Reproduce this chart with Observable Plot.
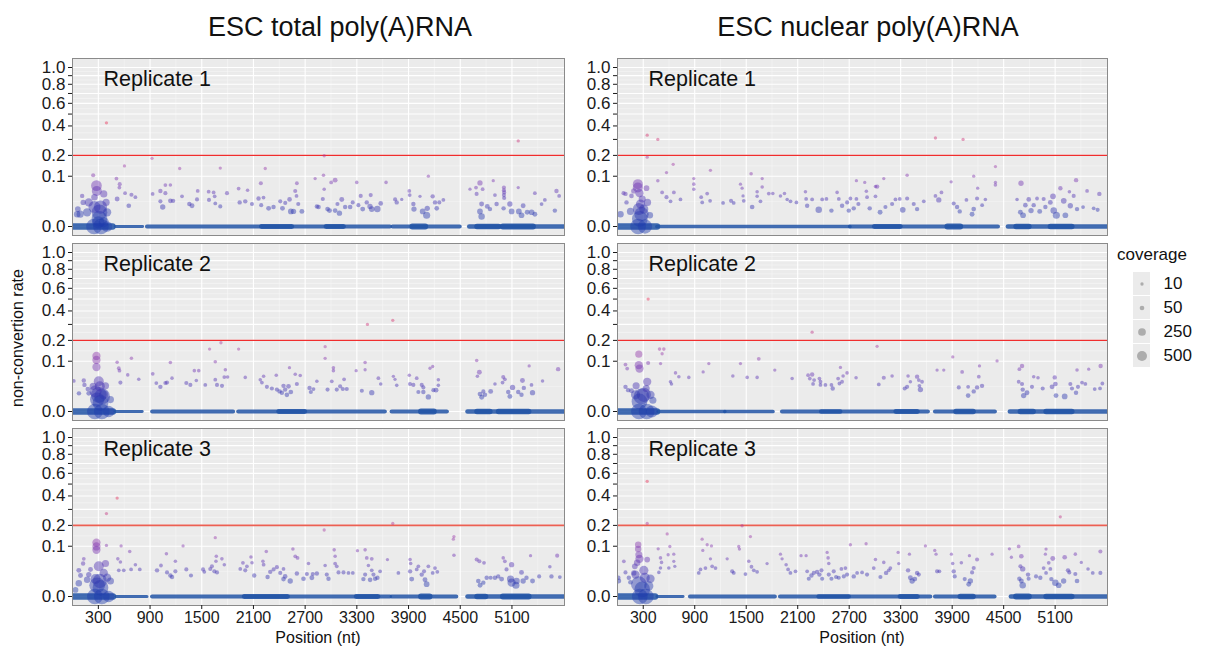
<!DOCTYPE html>
<html>
<head>
<meta charset="utf-8">
<script src="https://cdn.jsdelivr.net/npm/d3@7"></script>
<script src="https://cdn.jsdelivr.net/npm/@observablehq/plot@0.6"></script>
<style>
  html, body { margin: 0; padding: 0; background: #fff; }
  #root { position: relative; width: 1206px; height: 652px; overflow: hidden; background: #fff;
          font-family: "Liberation Sans", Arial, sans-serif; color: #111; }
  .abs { position: absolute; white-space: nowrap; }
  .abs svg { max-width: none !important; }
  .ctitle { font-size: 27px; line-height: 27px; text-align: center; }
  .atitle { font-size: 16px; line-height: 16px; text-align: center; }
</style>
</head>
<body>
<div id="root"></div>
<script>
// ---------- scales / labels ----------
const columns = ["ESC total poly(A)RNA", "ESC nuclear poly(A)RNA"];
const replicates = ["Replicate 1", "Replicate 2", "Replicate 3"];
const xMajor = [300, 900, 1500, 2100, 2700, 3300, 3900, 4500, 5100];
const xMinor = [0, 600, 1200, 1800, 2400, 3000, 3600, 4200, 4800, 5400];
const yBreaks = [0, 0.1, 0.2, 0.3, 0.4, 0.5, 0.6, 0.7, 0.8, 0.9, 1.0];
const yLabels = ["0.0", "0.1", "0.2", "", "0.4", "", "0.6", "", "0.8", "", "1.0"];
const yMinor = [0.025, 0.1456, 0.2475, 0.3475, 0.4486, 0.5488, 0.6491, 0.7493, 0.8494, 0.9494];
const threshold = 0.2;
const coverageLevels = [10, 50, 250, 500];

// ---------- data: [position, non-conversion rate, coverage] ----------
const totalRep1 = [[394,.425,10],[54,.006,150],[62,.012,100],[124,.023,80],[112,.037,40],[240,.104,30],[278,.066,600],[282,.05,500],[363,.042,200],[255,.034,150],[189,.023,300],[255,.015,800],[325,.015,1000],[313,.008,1500],[313,.0023,1500],[402,.008,300],[390,.023,200],[170,.008,300],[89,.006,200],[300,.0007,800],[363,.0007,500],[250,0,1500],[330,0,1500],[400,0,600],
[510,.091,20],[548,.071,30],[544,.06,20],[518,.03,60],[603,.145,10],[610,.044,20],[653,.017,50],[684,.04,30],[730,.034,20],[923,.184,10],[930,.042,20],[1020,.05,40],[1020,.025,30],[1047,.015,80],[1078,.068,20],[1078,.044,30],[1136,.068,15],[1136,.026,50],[1167,.026,40],[1244,.133,10],[1271,.036,20],[1356,.02,40],[1387,.017,60],[1453,.05,20],[1445,.029,30],[1580,.048,20],[1584,.028,30],[1638,.046,20],[1650,.036,20],[1657,.021,20],[1715,.135,10],[1715,.016,30],[1793,.044,30],[1928,.057,20],[1940,.023,40],[2005,.025,40],[2032,.052,15],[2083,.02,30],[2159,.031,40],[2186,.074,30],[2217,.033,20],[2237,.133,10],[2190,.018,30],[2276,.013,60],[2333,.015,40],[2411,.025,30],[2437,.013,60],[2469,.022,30],[2519,.029,50],[2534,.009,100],[2585,.05,30],[2604,.074,20],
[2565,.009,80],[2600,.037,20],[2662,.009,60],[2620,.02,30],[2816,.091,10],[2836,.016,40],[2855,.015,50],[2913,.104,15],[2921,.198,10],[2921,.055,15],[2905,.03,30],[2960,.012,50],[2983,.01,60],[3002,.077,20],[3048,.085,60],[3075,.02,30],[3048,.01,50],[3098,.007,80],[3125,.029,60],[3164,.015,40],[3222,.015,50],[3252,.023,30],[3299,.077,15],[3318,.018,30],[3345,.037,30],[3368,.012,60],[3415,.023,40],[3461,.039,30],[3453,.016,80],[3473,.012,100],[3538,.012,150],[3577,.021,50],[3639,.077,15],[3744,.029,30],[3763,.023,40],[3821,.029,10],[3909,.05,20],[3913,.039,20],[3956,.02,40],[3963,.012,80],[4033,.036,10],[4064,.009,100],[4110,.005,200],[4117,.013,80],[4130,.1,10],[4180,.036,40],[4207,.023,40],[4227,.013,50],[4257,.023,30],[4304,.028,20],[4613,.055,10],[4683,.06,20],[4729,.075,80],[4690,.042,30],[4748,.02,60],[4729,.009,100],[4748,.004,150],[4760,.055,20],[4814,.016,60],[4845,.012,40],[4883,.083,10],[4903,.039,20],[4922,.02,40],[5007,.06,30],[5007,.052,30],[5010,.046,30],[5007,.039,30],[5010,.032,30],[5003,.013,40],[5076,.02,80],[5096,.009,100],[5173,.06,10],[5180,.009,100],[5211,.005,100],[5230,.017,60],[5277,.008,60],[5328,.008,100],[5366,.044,20],[5366,.006,60],[5444,.02,20],[5482,.028,20],[5598,.01,40],[5617,.05,40],[5648,.037,20],[5173,.29,10]];

const nuclearRep1 = [[35,.006,150],[93,.042,40],[70,.044,30],[105,.023,40],[151,.009,200],[163,.037,50],[190,.05,80],[237,.071,500],[237,.06,500],[256,.044,300],[288,.03,200],[268,.02,400],[249,.012,800],[280,.006,1200],[260,.0023,1500],[306,.012,400],[338,.058,100],[350,.023,200],[377,.005,150],[240,0,1500],[320,0,1200],[346,.33,10],[346,.19,10],[470,.30,10],[470,.083,15],[520,.046,20],[571,.115,10],[571,.034,30],[618,.025,20],[649,.153,10],[657,.046,20],[734,.029,20],[889,.091,10],[889,.071,15],[889,.055,15],[975,.034,20],[987,.023,20],[1045,.043,20],[1083,.125,10],[1079,.026,20],[1230,.022,20],[1323,.026,30],[1354,.022,20],[1433,.071,10],[1452,.058,10],[1463,.037,10],[1471,.026,20],[1557,.11,15],[1569,.015,50],[1627,.048,15],[1627,.036,15],[1666,.025,20],[1686,.091,10],[1686,.062,15],[1763,.043,20],[1810,.043,15],[1899,.037,15],[1946,.043,15],[1977,.029,15],[2016,.025,20],[2085,.023,20],[2190,.048,15],[2198,.03,20],[2210,.017,40],[2268,.029,20],[2345,.011,150],[2385,.029,20],[2435,.03,20],[2493,.01,40],[2559,.046,15],[2579,.03,20],[2617,.017,40],[2676,.023,30],
[2695,.01,40],[2714,.031,20],[2753,.013,40],[2784,.083,10],[2784,.03,20],[2807,.02,30],[2881,.077,10],[2900,.049,15],[2908,.034,20],[2939,.013,40],[3006,.063,15],[3006,.036,20],[3025,.063,40],[3103,.091,10],[3060,.008,60],[3122,.015,30],[3200,.02,30],[3239,.029,20],[3289,.03,20],[3324,.011,100],[3375,.104,15],[3375,.031,30],[3452,.02,30],[3491,.012,40],[3569,.025,20],[3705,.31,10],[3705,.037,20],[3744,.028,80],[3775,.046,20],[3888,.079,10],[3918,.021,30],[3957,.015,40],[3988,.009,40],[4027,.30,10],[4066,.028,20],[4132,.006,60],[4151,.1,10],[4151,.012,50],[4197,.058,10],[4190,.031,30],[4249,.018,20],[4287,.029,15],[4404,.142,10],[4404,.077,10],[4404,.068,15],[4656,.029,15],[4702,.074,80],[4695,.008,60],[4726,.005,100],[4753,.018,50],[4792,.029,50],[4819,.01,80],[4850,.018,40],[4889,.031,20],[4920,.009,60],[4966,.03,30],[4986,.015,40],[5044,.023,60],[5075,.036,100],[5083,.01,150],[5114,.005,200],[5161,.058,40],[5200,.026,100],[5219,.005,100],[5266,.048,15],[5277,.017,80],[5316,.037,30],[5344,.085,40],[5355,.012,40],[5425,.015,20],[5472,.05,20],[5549,.013,20],[5595,.011,30],[5615,.042,40]];

const totalRep2 = [[15,.037,20],[75,.013,40],[131,.038,40],[139,.028,40],[178,.02,50],[189,.013,60],[240,.025,200],[278,.122,300],[278,.105,300],[278,.078,300],[305,.036,500],[317,.025,500],[267,.016,800],[305,.011,1500],[344,.009,1500],[286,.0056,1200],[325,.0029,1500],[363,.011,400],[383,.026,200],[440,.0056,200],[260,0,1500],[340,0,1500],[420,0,700],[518,.096,15],[537,.074,20],[545,.066,20],[556,.033,30],[641,.053,15],[684,.112,15],[769,.041,15],[931,.056,20],[973,.032,20],[1020,.024,40],[1078,.032,30],[1097,.033,30],[1136,.095,15],[1155,.044,15],[1321,.032,30],[1368,.028,30],[1414,.066,15],[1465,.066,15],[1437,.038,15],[1541,.028,20],[1591,.154,10],[1657,.098,15],[1657,.04,20],[1677,.028,30],[1723,.187,10],[1735,.026,30],[1762,.047,20],[1774,.069,15],[1800,.047,15],[1928,.154,10],[2005,.046,15],[2179,.04,15],[2198,.033,20],[2218,.049,15],[2256,.024,30],[2314,.021,30],[2365,.052,15],[2372,.019,30],[2403,.016,40],[2449,.026,40],[2468,.019,40],[2430,.014,40],[2488,.011,50],[2518,.076,10],[2507,.025,50],[2534,.015,50],[2585,.055,15],[2604,.03,30],[2643,.051,15],[2751,.022,40],[2766,.015,30],[2797,.02,20],[2836,.036,15],[2932,.166,10],[2932,.112,10],[2960,.019,30],[3028,.076,15],[3028,.066,15],[3009,.036,20],[3067,.019,30],[3106,.025,30],[3137,.02,30],[3152,.041,20],[3183,.02,30],[3292,.066,10],[3358,.017,30],[3396,.095,15],[3396,.069,10],[3423,.3,10],[3473,.014,80],[3550,.044,20],[3577,.03,15],[3717,.329,10],[3724,.049,10],[3743,.041,10],[3763,.027,15],[3909,.052,15],[3917,.03,30],[3956,.028,30],[3995,.044,20],[4014,.015,30],[4053,.028,30],[4072,.023,30],[4072,.015,40],[4130,.0084,80],[4149,.074,10],[4180,.08,10],[4188,.018,30],[4219,.018,60],[4246,.04,15],[4246,.027,15],[4691,.103,15],[4722,.061,60],[4699,.049,15],[4730,.012,60],[4749,.008,60],[4768,.016,30],[4787,.011,40],[4853,.016,60],[4903,.03,15],[4999,.047,30],[4991,.033,20],[5018,.041,20],[5057,.015,40],[5076,.009,60],[5107,.023,80],[5173,.015,40],[5211,.011,40],[5222,.038,60],[5238,.022,40],[5300,.082,10],[5327,.028,20],[5339,.014,80],[5455,.037,15],[5636,.071,40]];

const nuclearRep2 = [[93,.024,40],[124,.018,40],[163,.017,60],[217,.026,200],[210,.011,400],[248,.13,200],[248,.085,300],[256,.073,300],[93,.087,20],[113,.073,20],[307,.011,1200],[280,.009,1500],[256,.004,1500],[346,.035,300],[334,.021,200],[357,.093,30],[385,.011,300],[412,.005,200],[250,0,1500],[340,0,1500],[400,0,800],[357,.5,10],[490,.154,15],[540,.154,15],[520,.132,10],[502,.091,10],[617,.035,15],[629,.03,15],[676,.059,15],[715,.048,15],[831,.046,15],[998,.062,10],[1064,.091,10],[1344,.05,15],[1433,.091,10],[1511,.046,15],[1627,.046,15],[1646,.11,20],[1833,.068,10],[2035,.043,15],[2221,.052,20],[2241,.043,20],[2268,.249,10],[2268,.054,40],[2291,.039,20],[2279,.03,20],[2353,.043,20],[2365,.035,20],[2365,.028,20],[2423,.028,20],[2493,.028,20],[2508,.021,40],[2571,.043,20],[2586,.031,20],[2617,.035,20],[2598,.077,10],[2629,.05,15],[2675,.059,15],[2780,.045,15],[3025,.168,10],[3045,.029,20],[3103,.045,30],[3200,.05,15],[3347,.021,30],[3375,.024,30],[3386,.05,15],[3413,.035,15],[3491,.048,40],[3511,.039,20],[3518,.026,20],[3530,.019,80],[3549,.035,20],[3724,.068,10],[3802,.068,10],[3907,.118,10],[3977,.023,30],[4016,.062,20],[4086,.024,20],[4086,.01,50],[4151,.016,40],[4190,.023,40],[4210,.048,20],[4218,.082,10],[4248,.026,40],[4423,.101,10],[4675,.035,20],[4683,.071,20],[4714,.082,40],[4714,.03,30],[4722,.019,40],[4733,.01,80],[4772,.014,60],[4850,.048,15],[4900,.045,15],[4830,.024,30],[4955,.021,30],[5064,.024,60],[5095,.046,40],[5103,.03,50],[5110,.01,60],[5211,.009,100],[5277,.03,30],[5296,.021,30],[5343,.014,40],[5355,.068,15],[5366,.024,30],[5413,.033,20],[5491,.071,10],[5452,.03,20],[5561,.02,20],[5630,.082,40],[5623,.021,20],[5650,.031,20]];

const totalRep3 = [[35,.0017,100],[73,.007,150],[93,.0175,60],[73,.027,60],[123,.043,40],[131,.056,20],[170,.011,150],[189,.019,80],[209,.029,60],[267,.012,500],[278,.115,300],[278,.099,300],[278,.086,300],[305,.036,500],[286,.005,1500],[325,.003,1500],[317,.0095,1200],[363,.022,300],[383,.043,200],[402,.014,300],[440,.0095,200],[260,0,1500],[340,0,1500],[420,0,700],[394,.272,10],[394,.103,10],[518,.383,10],[526,.056,15],[537,.027,20],[564,.101,10],[556,.047,15],[595,.027,20],[664,.08,15],[680,.029,20],[730,.04,15],[781,.029,20],[981,.027,40],[1027,.038,20],[1090,.072,15],[1097,.023,30],[1136,.0175,40],[1155,.015,40],[1194,.025,30],[1194,.049,15],[1283,.101,10],[1321,.029,30],[1375,.0175,30],[1515,.029,30],[1530,.024,20],[1599,.03,30],[1618,.036,30],[1657,.137,10],[1646,.025,30],[1665,.049,15],[1669,.064,15],[1677,.023,30],[1734,.056,15],[1762,.04,15],[1947,.03,20],[1978,.045,20],[2005,.027,30],[2024,.036,20],[2071,.062,15],[2083,.045,15],[2109,.0175,40],[2210,.049,15],[2218,.04,20],[2249,.08,15],[2264,.015,40],[2295,.024,40],[2334,.029,30],[2372,.034,30],[2411,.022,30],[2449,.03,20],[2468,.016,50],[2449,.012,50],[2527,.0095,80],[2558,.089,15],[2585,.064,20],[2604,.021,40],[2612,.059,20],[2681,.0125,50],[2720,.02,30],[2739,.043,15],[2778,.014,60],[2789,.02,30],[2836,.021,40],[2921,.175,10],[2932,.038,15],[2951,.019,30],[2971,.0125,40],[3037,.086,15],[3048,.064,15],[3048,.043,20],[3067,.036,20],[3087,.023,30],[3145,.023,30],[3203,.022,20],[3253,.022,20],[3307,.083,10],[3376,.012,40],[3396,.086,15],[3396,.019,30],[3415,.059,20],[3434,.038,15],[3454,.011,50],[3473,.056,20],[3473,.027,20],[3493,.019,30],[3512,.0125,40],[3539,.014,40],[3570,.025,20],[3655,.054,10],[3717,.211,10],[3782,.022,20],[3918,.054,15],[3925,.043,15],[3918,.025,40],[3937,.012,60],[3995,.029,20],[4014,.036,20],[4053,.019,40],[4080,.025,30],[4091,.011,60],[4110,.006,100],[4130,.036,20],[4180,.022,20],[4207,.032,20],[4234,.024,20],[4427,.142,10],[4420,.13,10],[4427,.067,15],[4691,.054,30],[4722,.049,30],[4776,.045,20],[4710,.0095,50],[4730,.005,60],[4768,.0076,40],[4807,.014,40],[4853,.014,30],[4903,.014,40],[4941,.016,40],[4980,.012,60],[4999,.059,15],[5018,.049,20],[5037,.029,30],[5084,.012,200],[5096,.0076,300],[5096,.04,80],[5146,.005,200],[5153,.0095,150],[5211,.023,60],[5230,.0095,80],[5269,.014,40],[5316,.066,10],[5339,.0095,60],[5416,.016,30],[5540,.035,15],[5559,.016,40],[5625,.066,30],[5656,.015,20]];

const nuclearRep3 = [[10,.014,40],[15,.0095,60],[74,.049,20],[93,.023,30],[132,.014,40],[151,.008,50],[190,.022,80],[202,.036,100],[229,.045,150],[241,.106,150],[241,.089,150],[249,.069,200],[256,.056,300],[210,.019,300],[249,.006,1500],[288,.002,1500],[307,.027,400],[318,.014,500],[346,.054,100],[365,.0044,400],[385,.0125,300],[260,0,1500],[330,0,1500],[346,.525,10],[346,.211,10],[474,.09,10],[501,.059,15],[513,.046,15],[501,.032,15],[482,.023,15],[579,.155,10],[590,.069,10],[610,.099,10],[598,.032,15],[656,.071,10],[656,.049,10],[668,.036,10],[947,.022,20],[967,.029,20],[986,.13,10],[994,.084,10],[1025,.032,20],[1045,.106,10],[1083,.056,10],[1095,.101,10],[1103,.036,20],[1142,.032,20],[1278,.056,10],[1336,.025,30],[1355,.022,20],[1413,.099,10],[1421,.089,10],[1452,.198,10],[1491,.02,20],[1530,.049,15],[1549,.142,10],[1561,.035,20],[1588,.027,20],[1627,.024,20],[1743,.043,10],[1899,.071,10],[1918,.056,10],[1965,.04,15],[1988,.029,20],[2015,.022,20],[2074,.025,20],[2139,.066,10],[2198,.066,10],[2210,.025,20],[2229,.0125,30],[2260,.0175,40],[2287,.022,30],[2326,.024,40],[2353,.019,40],[2377,.027,30],[2385,.0125,30],[2443,.077,10],[2454,.059,15],[2462,.043,15],[2462,.019,30],[2493,.0125,30],[2520,.025,30],[2547,.015,30],[2578,.014,30],[2609,.03,20],[2637,.016,30],[2656,.032,20],[2675,.019,30],[2714,.106,10],[2753,.016,40],[2792,.022,20],[2850,.023,20],[2897,.11,10],[2908,.019,30],[2986,.032,20],[3006,.054,15],[3064,.015,30],[3103,.046,15],[3130,.022,40],[3161,.027,20],[3180,.032,20],[3270,.077,10],[3277,.043,10],[3386,.027,40],[3402,.071,10],[3413,.014,60],[3433,.0095,80],[3464,.012,60],[3491,.022,40],[3511,.019,30],[3588,.101,10],[3697,.084,10],[3712,.071,10],[3724,.025,30],[3751,.025,20],[3891,.071,10],[3906,.043,15],[3918,.025,40],[3930,.016,30],[4007,.045,15],[4046,.012,30],[4101,.066,10],[4112,.0095,80],[4093,.006,60],[4132,.023,30],[4151,.032,30],[4190,.054,30],[4365,.071,10],[4567,.09,10],[4590,.061,10],[4675,.099,20],[4706,.064,50],[4695,.036,30],[4722,.03,80],[4683,.0125,40],[4706,.0095,60],[4722,.005,150],[4784,.019,40],[4791,.0125,30],[4877,.016,30],[4927,.014,40],[4966,.032,20],[4994,.022,20],[4994,.089,10],[4986,.071,10],[5025,.045,20],[5044,.03,20],[5056,.012,40],[5072,.057,60],[5102,.0076,150],[5160,.251,10],[5141,.005,100],[5199,.0095,80],[5211,.061,50],[5250,.027,40],[5265,.023,30],[5335,.071,15],[5335,.02,30],[5355,.0095,50],[5405,.046,10],[5483,.03,15],[5538,.022,20],[5627,.08,30],[5627,.022,30]];

// zero-rate positions: [start, end, typical coverage]
const totalRep1Zero = [[0,470,400],[500,820,30],[870,3690,100],[3720,4500,100],[4610,5710,150],[2200,2550,200],[2950,3150,200],[3950,4100,300],[4700,4950,250],[5000,5350,300]];
const nuclearRep1Zero = [[0,466,400],[466,2714,80],[2714,4440,100],[4555,5710,150],[3000,3300,200],[3850,4000,300],[4650,4800,250],[5050,5300,250]];
const totalRep2Zero = [[0,475,400],[500,815,30],[930,1870,100],[1930,3630,120],[3710,4350,120],[4590,5710,150],[2400,2700,200],[4050,4200,300],[4700,4850,250],[4950,5300,250]];
const nuclearRep2Zero = [[0,466,400],[478,1258,50],[1258,1817,80],[1922,3623,100],[3705,4404,100],[4578,5710,150],[2380,2600,150],[3250,3500,200],[3950,4150,250],[4700,4850,250],[5000,5300,250]];
const totalRep3Zero = [[0,475,400],[510,870,40],[930,3690,120],[3710,4460,100],[4590,5710,150],[2000,2500,200],[3300,3550,200],[4050,4150,300],[4700,4800,250],[5000,5300,300]];
const nuclearRep3Zero = [[0,443,400],[466,770,30],[850,1840,100],[1900,3650,120],[3705,4400,100],[4590,5710,150],[2350,2700,150],[3300,3500,200],[4000,4150,250],[4650,4800,300],[5000,5300,250]];

// ---------- styling ----------
const FONT = '"Liberation Sans", Arial, sans-serif';
const R_OPTS = {type: "pow", exponent: 0.5, domain: [-40, 500], range: [0, 5]};
const rS = d3.scalePow().exponent(0.5).domain(R_OPTS.domain).range(R_OPTS.range);
const COLOR_OPTS = {type: "linear", domain: [0, 0.02, 0.06, 0.15, 0.4],
  range: ["#1f3cae", "#3d30b2", "#6c34b4", "#a03aa8", "#ea3058"], clamp: true};
const BAND_BLUE = "#2153a6";

const panels = [
  {data: totalRep1, zero: totalRep1Zero, col: 0, row: 0},
  {data: nuclearRep1, zero: nuclearRep1Zero, col: 1, row: 0},
  {data: totalRep2, zero: totalRep2Zero, col: 0, row: 1},
  {data: nuclearRep2, zero: nuclearRep2Zero, col: 1, row: 1},
  {data: totalRep3, zero: totalRep3Zero, col: 0, row: 2},
  {data: nuclearRep3, zero: nuclearRep3Zero, col: 1, row: 2}
];
const frameTop = [58, 243, 428];
const frameH = 177;
const colLeft = [22, 567];
const frameW = [492, 490];
const ML = 50;

const root = document.getElementById("root");
function place(el, left, top, w) {
  const d = document.createElement("div");
  d.className = "abs";
  d.style.left = left + "px";
  d.style.top = top + "px";
  d.style.width = w + "px";
  d.appendChild(el);
  root.appendChild(d);
}

for (const p of panels) {
  const showX = p.row === 2;
  const mb = showX ? 30 : 1;
  const W = ML + frameW[p.col] + 1;
  const chart = Plot.plot({
    width: W,
    height: 1 + frameH + mb,
    marginLeft: ML, marginRight: 1, marginTop: 1, marginBottom: mb,
    style: {fontFamily: FONT, fontSize: "17px", color: "#1a1a1a", background: "transparent", overflow: "visible"},
    x: showX ? {domain: [0, 5710]} : {domain: [0, 5710], axis: null},
    y: {type: "sqrt", domain: [0, 1], insetTop: 9, insetBottom: 9},
    r: R_OPTS,
    color: COLOR_OPTS,
    marks: [
      Plot.frame({fill: "#ebebeb", stroke: "none"}),
      Plot.ruleY(yMinor, {stroke: "#f6f6f6", strokeWidth: 0.6}),
      Plot.ruleX(xMinor, {stroke: "#f6f6f6", strokeWidth: 0.6}),
      Plot.ruleY(yBreaks, {stroke: "white", strokeWidth: 1.1}),
      Plot.ruleX(xMajor, {stroke: "white", strokeWidth: 1.1}),
      Plot.ruleY([threshold], {stroke: p.row === 2 ? "#ec5f52" : "#f02d2d", strokeWidth: p.row === 2 ? 1.8 : 1.3}),
      Plot.ruleY(p.zero, {x1: d => d[0], x2: d => d[1], y: () => 0, stroke: BAND_BLUE, strokeOpacity: 0.85,
        strokeWidth: d => 1.4 * rS(d[2]), strokeLinecap: "round", clip: true}),
      Plot.dot(p.data, {x: d => d[0], y: d => d[1], r: d => d[2], fill: d => d[1], fillOpacity: 0.45, stroke: "none", clip: true}),
      Plot.frame({stroke: "#8a8a8a", strokeWidth: 1}),
      Plot.text([replicates[p.row]], {frameAnchor: "top-left", dx: 31, dy: 12, text: d => d, fontSize: 21.5,
        lineAnchor: "top", textAnchor: "start", fill: "#111"}),
      Plot.axisY(yBreaks, {tickFormat: d => yLabels[yBreaks.indexOf(d)], tickSize: 4, tickPadding: 3, label: null}),
      showX ? Plot.axisX(xMajor, {tickFormat: d => String(d), tickSize: 4, tickPadding: 2, label: null, fontSize: 16}) : null
    ]
  });
  place(chart, colLeft[p.col], frameTop[p.row] - 1, W);
}

// column titles
const titleCenters = [340, 868];
columns.forEach((t, i) => {
  const d = document.createElement("div");
  d.className = "abs ctitle";
  d.style.left = (titleCenters[i] - 220) + "px";
  d.style.width = "440px";
  d.style.top = "14px";
  d.textContent = t;
  root.appendChild(d);
});

// x axis titles
[318, 862].forEach(cx => {
  const d = document.createElement("div");
  d.className = "abs atitle";
  d.style.left = (cx - 100) + "px";
  d.style.width = "200px";
  d.style.top = "630px";
  d.textContent = "Position (nt)";
  root.appendChild(d);
});

// y axis title
{
  const d = document.createElement("div");
  d.className = "abs atitle";
  d.style.left = (18 - 100) + "px";
  d.style.width = "200px";
  d.style.top = (338 - 8) + "px";
  d.style.transform = "rotate(-90deg)";
  d.textContent = "non-convertion rate";
  root.appendChild(d);
}

// legend
{
  const d = document.createElement("div");
  d.className = "abs";
  d.style.left = "1117px";
  d.style.top = "246px";
  d.style.fontSize = "17px";
  d.style.lineHeight = "17px";
  d.textContent = "coverage";
  root.appendChild(d);
  const legend = Plot.plot({
    width: 70, height: 98, margin: 0,
    style: {fontFamily: FONT, fontSize: "17px", color: "#1a1a1a", background: "transparent", overflow: "visible"},
    x: {domain: [0, 70], range: [0, 70], axis: null},
    y: {type: "band", domain: coverageLevels, range: [0, 98], padding: 0.06, axis: null},
    r: R_OPTS,
    marks: [
      Plot.barX(coverageLevels, {x1: () => 3, x2: () => 20, y: d => d, fill: "#ebebeb"}),
      Plot.dot(coverageLevels, {x: () => 11.5, y: d => d, r: d => d, fill: "#7a7a7a", fillOpacity: 0.55}),
      Plot.text(coverageLevels, {x: () => 33, y: d => d, text: d => String(d), textAnchor: "start", fontSize: 17, fill: "#111"})
    ]
  });
  place(legend, 1130, 270, 70);
}
</script>
</body>
</html>
